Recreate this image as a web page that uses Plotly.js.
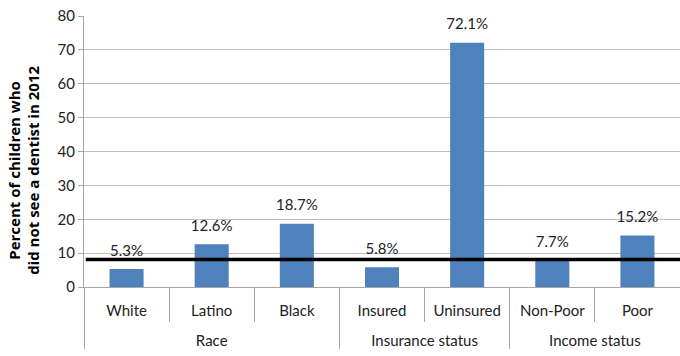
<!DOCTYPE html>
<html><head><meta charset="utf-8">
<script src="https://cdn.plot.ly/plotly-3.0.1.min.js"></script>
<style>html,body{margin:0;padding:0;background:#fff}#chart{width:680px;height:356px}</style>
</head><body><div id="chart"></div>
<script>
const groups = ["Race","Race","Race","Insurance status","Insurance status","Income status","Income status"];
const categories = ["White","Latino","Black","Insured","Uninsured","Non-Poor","Poor"];
const values = [5.3, 12.6, 18.7, 5.8, 72.1, 7.7, 15.2];
const labels = ["5.3%","12.6%","18.7%","5.8%","72.1%","7.7%","15.2%"];
const benchmark = [8.1];

const FONT = "Lato, 'Open Sans', Arial, sans-serif";
// extra blank line above group names to space the second label row like the reference
const groupLabels = groups.map(g => '<span style="font-size:20px"> </span><br>' + g);

const bars = {
  type: 'bar', x: [groupLabels, categories], y: values,
  marker: {color: '#4F81BD'}, hoverinfo: 'skip', showlegend: false
};
const text = {
  type: 'scatter', mode: 'markers+text', x: [groupLabels, categories], y: values,
  text: labels, textposition: 'top center',
  marker: {size: 14, opacity: 0}, textfont: {family: FONT, size: 15, color: '#222'},
  hoverinfo: 'skip', showlegend: false, cliponaxis: false
};

const layout = {
  width: 680, height: 356,
  margin: {l: 84, r: 0, t: 16, b: 69},
  paper_bgcolor: '#fff', plot_bgcolor: '#fff',
  bargap: 0.6,
  font: {family: FONT, size: 15, color: '#222'},
  xaxis: {
    type: 'multicategory', automargin: false,
    showline: true, linecolor: '#A6A6A6', linewidth: 1,
    ticks: 'outside', tickson: 'boundaries', ticklen: 34, tickcolor: '#A6A6A6',
    ticklabelstandoff: 10,
    showdividers: true, dividercolor: '#A6A6A6', dividerwidth: 1,
    showgrid: false, zeroline: false,
    tickfont: {family: FONT, size: 15, color: '#222'}
  },
  yaxis: {
    range: [0, 80], dtick: 10, tick0: 0, automargin: false,
    showline: true, linecolor: '#A6A6A6', linewidth: 1,
    ticks: 'outside', ticklen: 5, tickcolor: '#A6A6A6',
    showgrid: true, gridcolor: '#BFBFBF', gridwidth: 1,
    zeroline: false,
    tickfont: {family: FONT, size: 15, color: '#222'}
  },
  shapes: benchmark.map(v => ({
    type: 'line', xref: 'paper', yref: 'y', x0: 0.003, x1: 1, y0: v, y1: v,
    line: {color: '#000', width: 3.5}
  })),
  annotations: [{
    xref: 'paper', yref: 'paper', x: -0.1, y: 0.43,
    xanchor: 'center', yanchor: 'middle', textangle: -90, showarrow: false,
    text: '<b>Percent of children who<br>did not see a dentist in 2012</b>',
    font: {family: "'Open Sans', Arial, sans-serif", size: 15, color: '#000'}
  }]
};

Plotly.newPlot('chart', [bars, text], layout, {displayModeBar: false, staticPlot: true});
</script></body></html>
